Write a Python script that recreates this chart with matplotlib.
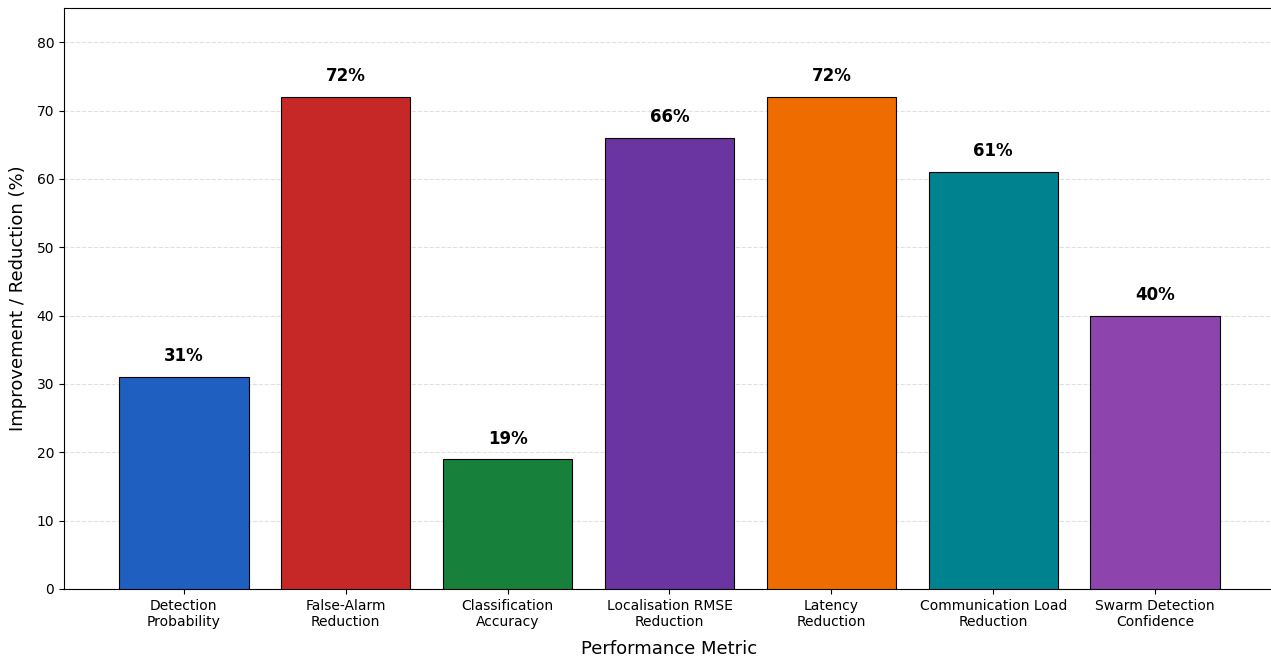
import matplotlib
matplotlib.use("Agg")
import matplotlib.pyplot as plt

metrics = [
    "Detection\nProbability",
    "False-Alarm\nReduction",
    "Classification\nAccuracy",
    "Localisation RMSE\nReduction",
    "Latency\nReduction",
    "Communication Load\nReduction",
    "Swarm Detection\nConfidence",
]
improvement = [31, 72, 19, 66, 72, 61, 40]
bar_colors = ["#1f5fc0", "#c62828", "#17803a", "#6a35a0", "#ef6c00", "#00838f", "#8e44ad"]

fig = plt.figure(figsize=(12.71, 6.56), dpi=100)
ax = fig.add_axes([64 / 1271, 1 - 589 / 656, (1275 - 64) / 1271, (589 - 8) / 656])

x = list(range(len(metrics)))
bars = ax.bar(x, improvement, width=0.8, color=bar_colors, edgecolor="black", linewidth=0.8, zorder=3)

for b, v in zip(bars, improvement):
    ax.text(b.get_x() + b.get_width() / 2, v + 1.7, f"{v}%", ha="center", va="bottom",
            fontsize=12, fontweight="bold", zorder=4)

ax.set_xticks(x)
ax.set_xticklabels(metrics, fontsize=10)
ax.tick_params(axis="y", labelsize=10)
ax.set_ylim(0, 85)
ax.set_xlim(-0.74, 6.74)
ax.set_xlabel("Performance Metric", fontsize=13, labelpad=8)
ax.set_ylabel("Improvement / Reduction (%)", fontsize=13, labelpad=7)
ax.yaxis.grid(True, linestyle="--", color="#cccccc", alpha=0.6, linewidth=0.8, zorder=0)
ax.set_axisbelow(True)

fig.savefig("out.png", dpi=100)
